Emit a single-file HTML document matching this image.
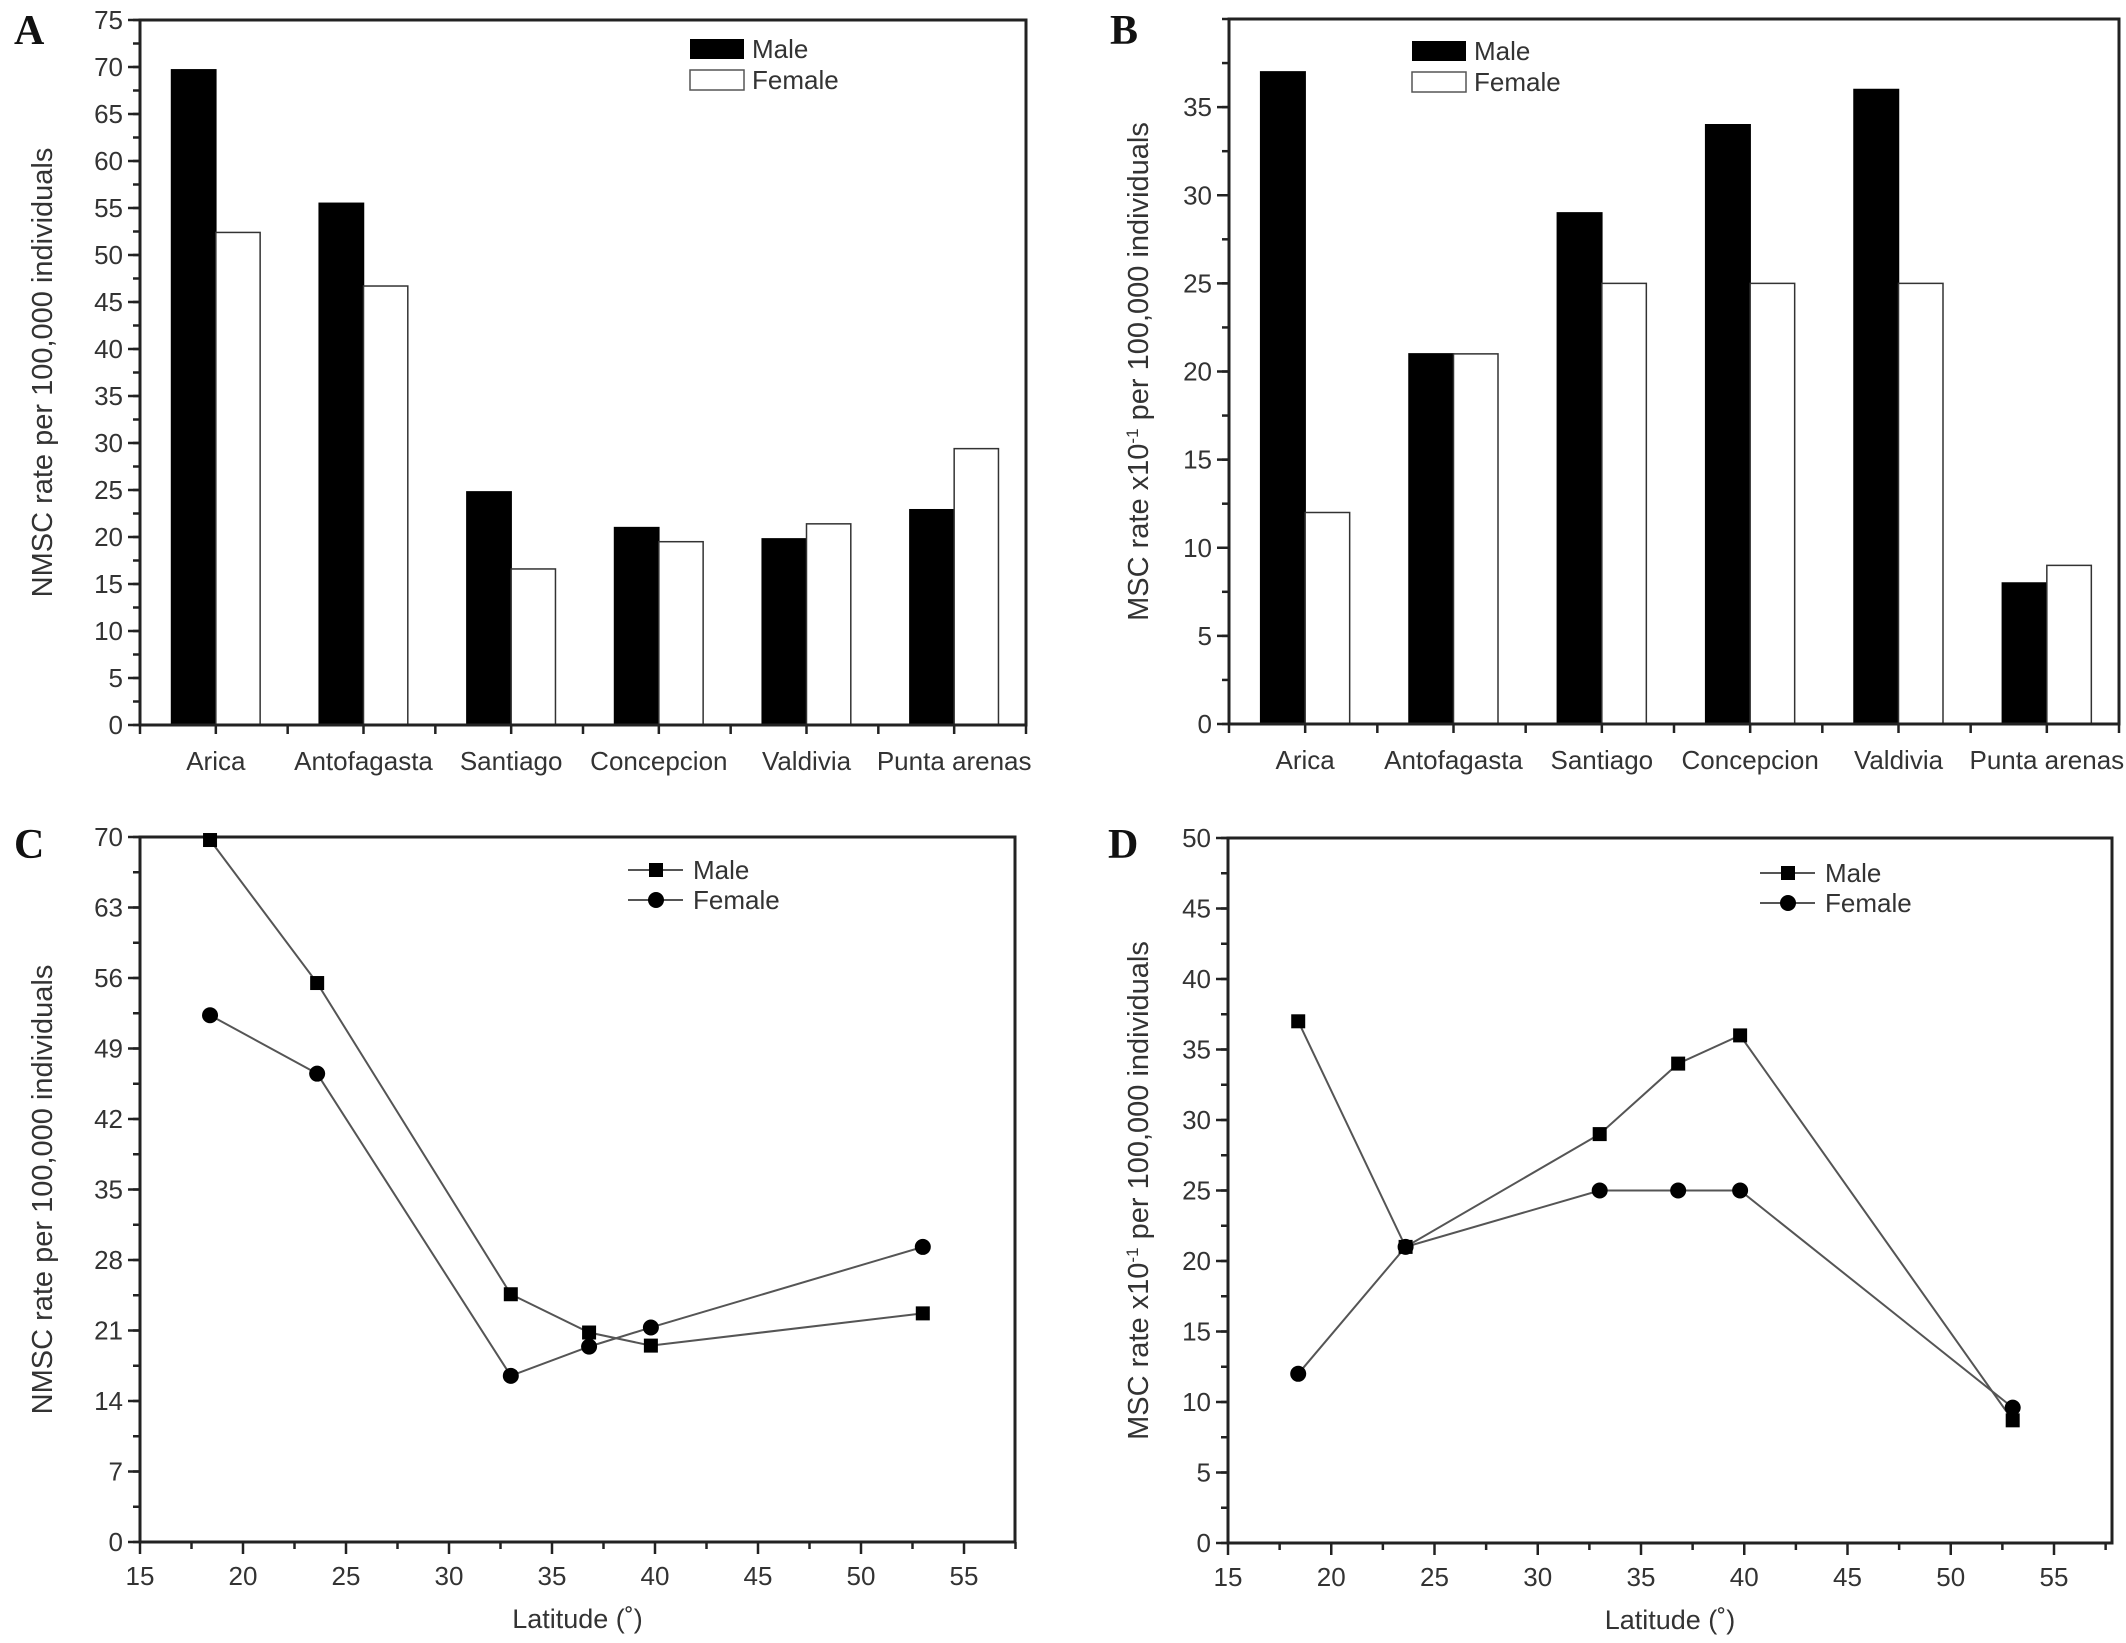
<!DOCTYPE html>
<html><head><meta charset="utf-8"><style>
html,body{margin:0;padding:0;background:#fff;}
svg{display:block;font-family:"Liberation Sans",Arial,sans-serif;}
</style></head><body>
<svg id="fig" width="2126" height="1643" viewBox="0 0 2126 1643" xmlns="http://www.w3.org/2000/svg"></svg>
<script>
const categories = ["Arica","Antofagasta","Santiago","Concepcion","Valdivia","Punta arenas"];
const nmscMale = [69.7, 55.5, 24.8, 21.0, 19.8, 22.9];
const nmscFemale = [52.4, 46.7, 16.6, 19.5, 21.4, 29.4];
const mscMale = [37, 21, 29, 34, 36, 8];
const mscFemale = [12, 21, 25, 25, 25, 9];
const latitudes = [18.4, 23.6, 33.0, 36.8, 39.8, 53.0];
const nmscMaleLine = [69.7, 55.5, 24.6, 20.8, 19.5, 22.7];
const nmscFemaleLine = [52.3, 46.5, 16.5, 19.4, 21.3, 29.3];
const mscMaleLine = [37, 21, 29, 34, 36, 8.7];
const mscFemaleLine = [12, 21, 25, 25, 25, 9.6];
const ticksA = [0,5,10,15,20,25,30,35,40,45,50,55,60,65,70,75];
const ticksB = [0,5,10,15,20,25,30,35];
const ticksC = [0,7,14,21,28,35,42,49,56,63,70];
const ticksD = [0,5,10,15,20,25,30,35,40,45,50];
const ticksLat = [15,20,25,30,35,40,45,50,55];

const NS = "http://www.w3.org/2000/svg";
const svg = document.getElementById('fig');
function mk(tag, attrs, parent){
  const e = document.createElementNS(NS, tag);
  for (const k in attrs) e.setAttribute(k, attrs[k]);
  (parent||svg).appendChild(e);
  return e;
}
function txt(s, attrs, parent){ const t = mk('text', attrs, parent); t.textContent = s; return t; }

function frame(g, L, R, T, B){
  const r = mk('rect', {x:L, y:T, width:R-L, height:B-T, fill:'none', stroke:'#222', 'stroke-width':3}, g);
  
  
}
function yAxis(g, L, T, B, ymax, ticks, minorStep){
  const ys = v => B - v/ymax*(B-T);
  for (let v=0; v<=ymax+1e-9; v+=minorStep){
    mk('line', {x1:L-7, x2:L, y1:ys(v), y2:ys(v), stroke:'#222','stroke-width':2.5}, g);
  }
  ticks.forEach(v=>{
    mk('line', {x1:L-12, x2:L, y1:ys(v), y2:ys(v), stroke:'#222','stroke-width':2.5}, g);
    const t = txt(String(v), {x:L-17, y:ys(v)+9, 'text-anchor':'end', 'font-size':26, fill:'#333'}, g);
    
    
  });
  return ys;
}
function yTitle(g, x, T, B, content){
  const t = mk('text', {x:0, y:0, transform:`translate(${x},${(T+B)/2}) rotate(-90)`, 'text-anchor':'middle', 'font-size':29, fill:'#333'}, g);
  t.innerHTML = content;
  
  
}
function letter(g, s, x, y){
  const t = txt(s, {x:x, y:y, 'font-family':'"Liberation Serif",serif', 'font-weight':'bold', 'font-size':42, fill:'#111'}, g);
  
  
}

function barPanel(name, L, R, T, B, ymax, ticks, male, female, legX, legY, titleX, titleContent, letterS, letterX){
  const g = mk('g', {});
  
  
  const ys = yAxis(g, L, T, B, ymax, ticks, 2.5);
  const cw = (R-L)/categories.length;
  const bw = cw*0.3;
  categories.forEach((c,i)=>{
    const cx = L + cw*(i+0.5) + 2;
    const m = mk('rect', {x:cx-bw, y:ys(male[i]), width:bw, height:B-ys(male[i]), fill:'#000', stroke:'#000','stroke-width':1.5}, g);
    
    
    const f = mk('rect', {x:cx, y:ys(female[i]), width:bw, height:B-ys(female[i]), fill:'#fff', stroke:'#333','stroke-width':1.5}, g);
    
    
    mk('line', {x1:cx, x2:cx, y1:B, y2:B+9, stroke:'#222','stroke-width':2.5}, g);
    mk('line', {x1:L+cw*i, x2:L+cw*i, y1:B, y2:B+9, stroke:'#222','stroke-width':2.5}, g);
    const t = txt(c, {x:cx, y:B+45, 'text-anchor':'middle','font-size':26, fill:'#333'}, g);
    
    
  });
  mk('line', {x1:R, x2:R, y1:B, y2:B+9, stroke:'#222','stroke-width':2.5}, g);
  frame(g, L, R, T, B);
  const lm = mk('rect', {x:legX, y:legY, width:54, height:20, fill:'#000'}, g);
  
  
  const lf = mk('rect', {x:legX, y:legY+31, width:54, height:20, fill:'#fff', stroke:'#555','stroke-width':1.5}, g);
  
  
  const t1 = txt('Male', {x:legX+62, y:legY+19, 'font-size':26, fill:'#333'}, g);
  
  
  const t2 = txt('Female', {x:legX+62, y:legY+50, 'font-size':26, fill:'#333'}, g);
  
  
  yTitle(g, titleX, T, B, titleContent);
  letter(g, letterS, letterX, 44);
}

function linePanel(name, L, x55, R, T, B, ymax, ticks, minorStep, male, female, legX, legY, titleX, titleContent, letterS, letterX){
  const g = mk('g', {});
  
  
  const ys = yAxis(g, L, T, B, ymax, ticks, minorStep);
  const xs = v => L + (v-15)/40*(x55-L);
  for (let v=15; xs(v)<=R+1; v+=2.5){
    const major = (v%5===0);
    mk('line', {x1:xs(v), x2:xs(v), y1:B, y2:B+(major?12:7), stroke:'#222','stroke-width':2.5}, g);
  }
  ticksLat.forEach(v=>{
    const t = txt(String(v), {x:xs(v), y:B+43, 'text-anchor':'middle','font-size':26, fill:'#333'}, g);
    
    
  });
  const xt = txt('Latitude (˚)', {x:(L+R)/2, y:B+86, 'text-anchor':'middle','font-size':27, fill:'#333'}, g);
  
  
  frame(g, L, R, T, B);
  const pm = latitudes.map((v,i)=>xs(v)+','+ys(male[i])).join(' ');
  const pf = latitudes.map((v,i)=>xs(v)+','+ys(female[i])).join(' ');
  const lnM = mk('polyline', {points:pm, fill:'none', stroke:'#555','stroke-width':2}, g);
  
  
  const lnF = mk('polyline', {points:pf, fill:'none', stroke:'#555','stroke-width':2}, g);
  
  
  latitudes.forEach((v,i)=>{
    const s = mk('rect', {x:xs(v)-7, y:ys(male[i])-7, width:14, height:14, fill:'#000'}, g);
    
    
    const c = mk('circle', {cx:xs(v), cy:ys(female[i]), r:8, fill:'#000'}, g);
    
    
  });
  mk('line', {x1:legX, x2:legX+55, y1:legY, y2:legY, stroke:'#555','stroke-width':2}, g);
  mk('rect', {x:legX+21, y:legY-7, width:14, height:14, fill:'#000'}, g);
  mk('line', {x1:legX, x2:legX+55, y1:legY+30, y2:legY+30, stroke:'#555','stroke-width':2}, g);
  mk('circle', {cx:legX+28, cy:legY+30, r:8, fill:'#000'}, g);
  const t1 = txt('Male', {x:legX+65, y:legY+9, 'font-size':26, fill:'#333'}, g);
  
  
  const t2 = txt('Female', {x:legX+65, y:legY+39, 'font-size':26, fill:'#333'}, g);
  
  
  yTitle(g, titleX, T, B, titleContent);
  letter(g, letterS, letterX, 858);
}

const nmscTitle = 'NMSC rate per 100,000 individuals';
const mscTitle = 'MSC rate x10<tspan dy="-10" font-size="17">-1</tspan><tspan dy="10"> per 100,000 individuals</tspan>';
barPanel('panel-a-nmsc-bars', 140, 1026, 20, 725, 75, ticksA, nmscMale, nmscFemale, 690, 39, 52, nmscTitle, 'A', 14);
barPanel('panel-b-msc-bars', 1229, 2119, 19, 724, 40, ticksB, mscMale, mscFemale, 1412, 41, 1148, mscTitle, 'B', 1110);
linePanel('panel-c-nmsc-latitude', 140, 964, 1015, 837, 1542, 70, ticksC, 3.5, nmscMaleLine, nmscFemaleLine, 628, 870, 52, nmscTitle, 'C', 14);
linePanel('panel-d-msc-latitude', 1228, 2054, 2112, 838, 1543, 50, ticksD, 2.5, mscMaleLine, mscFemaleLine, 1760, 873, 1148, mscTitle, 'D', 1108);
</script>
</body></html>
